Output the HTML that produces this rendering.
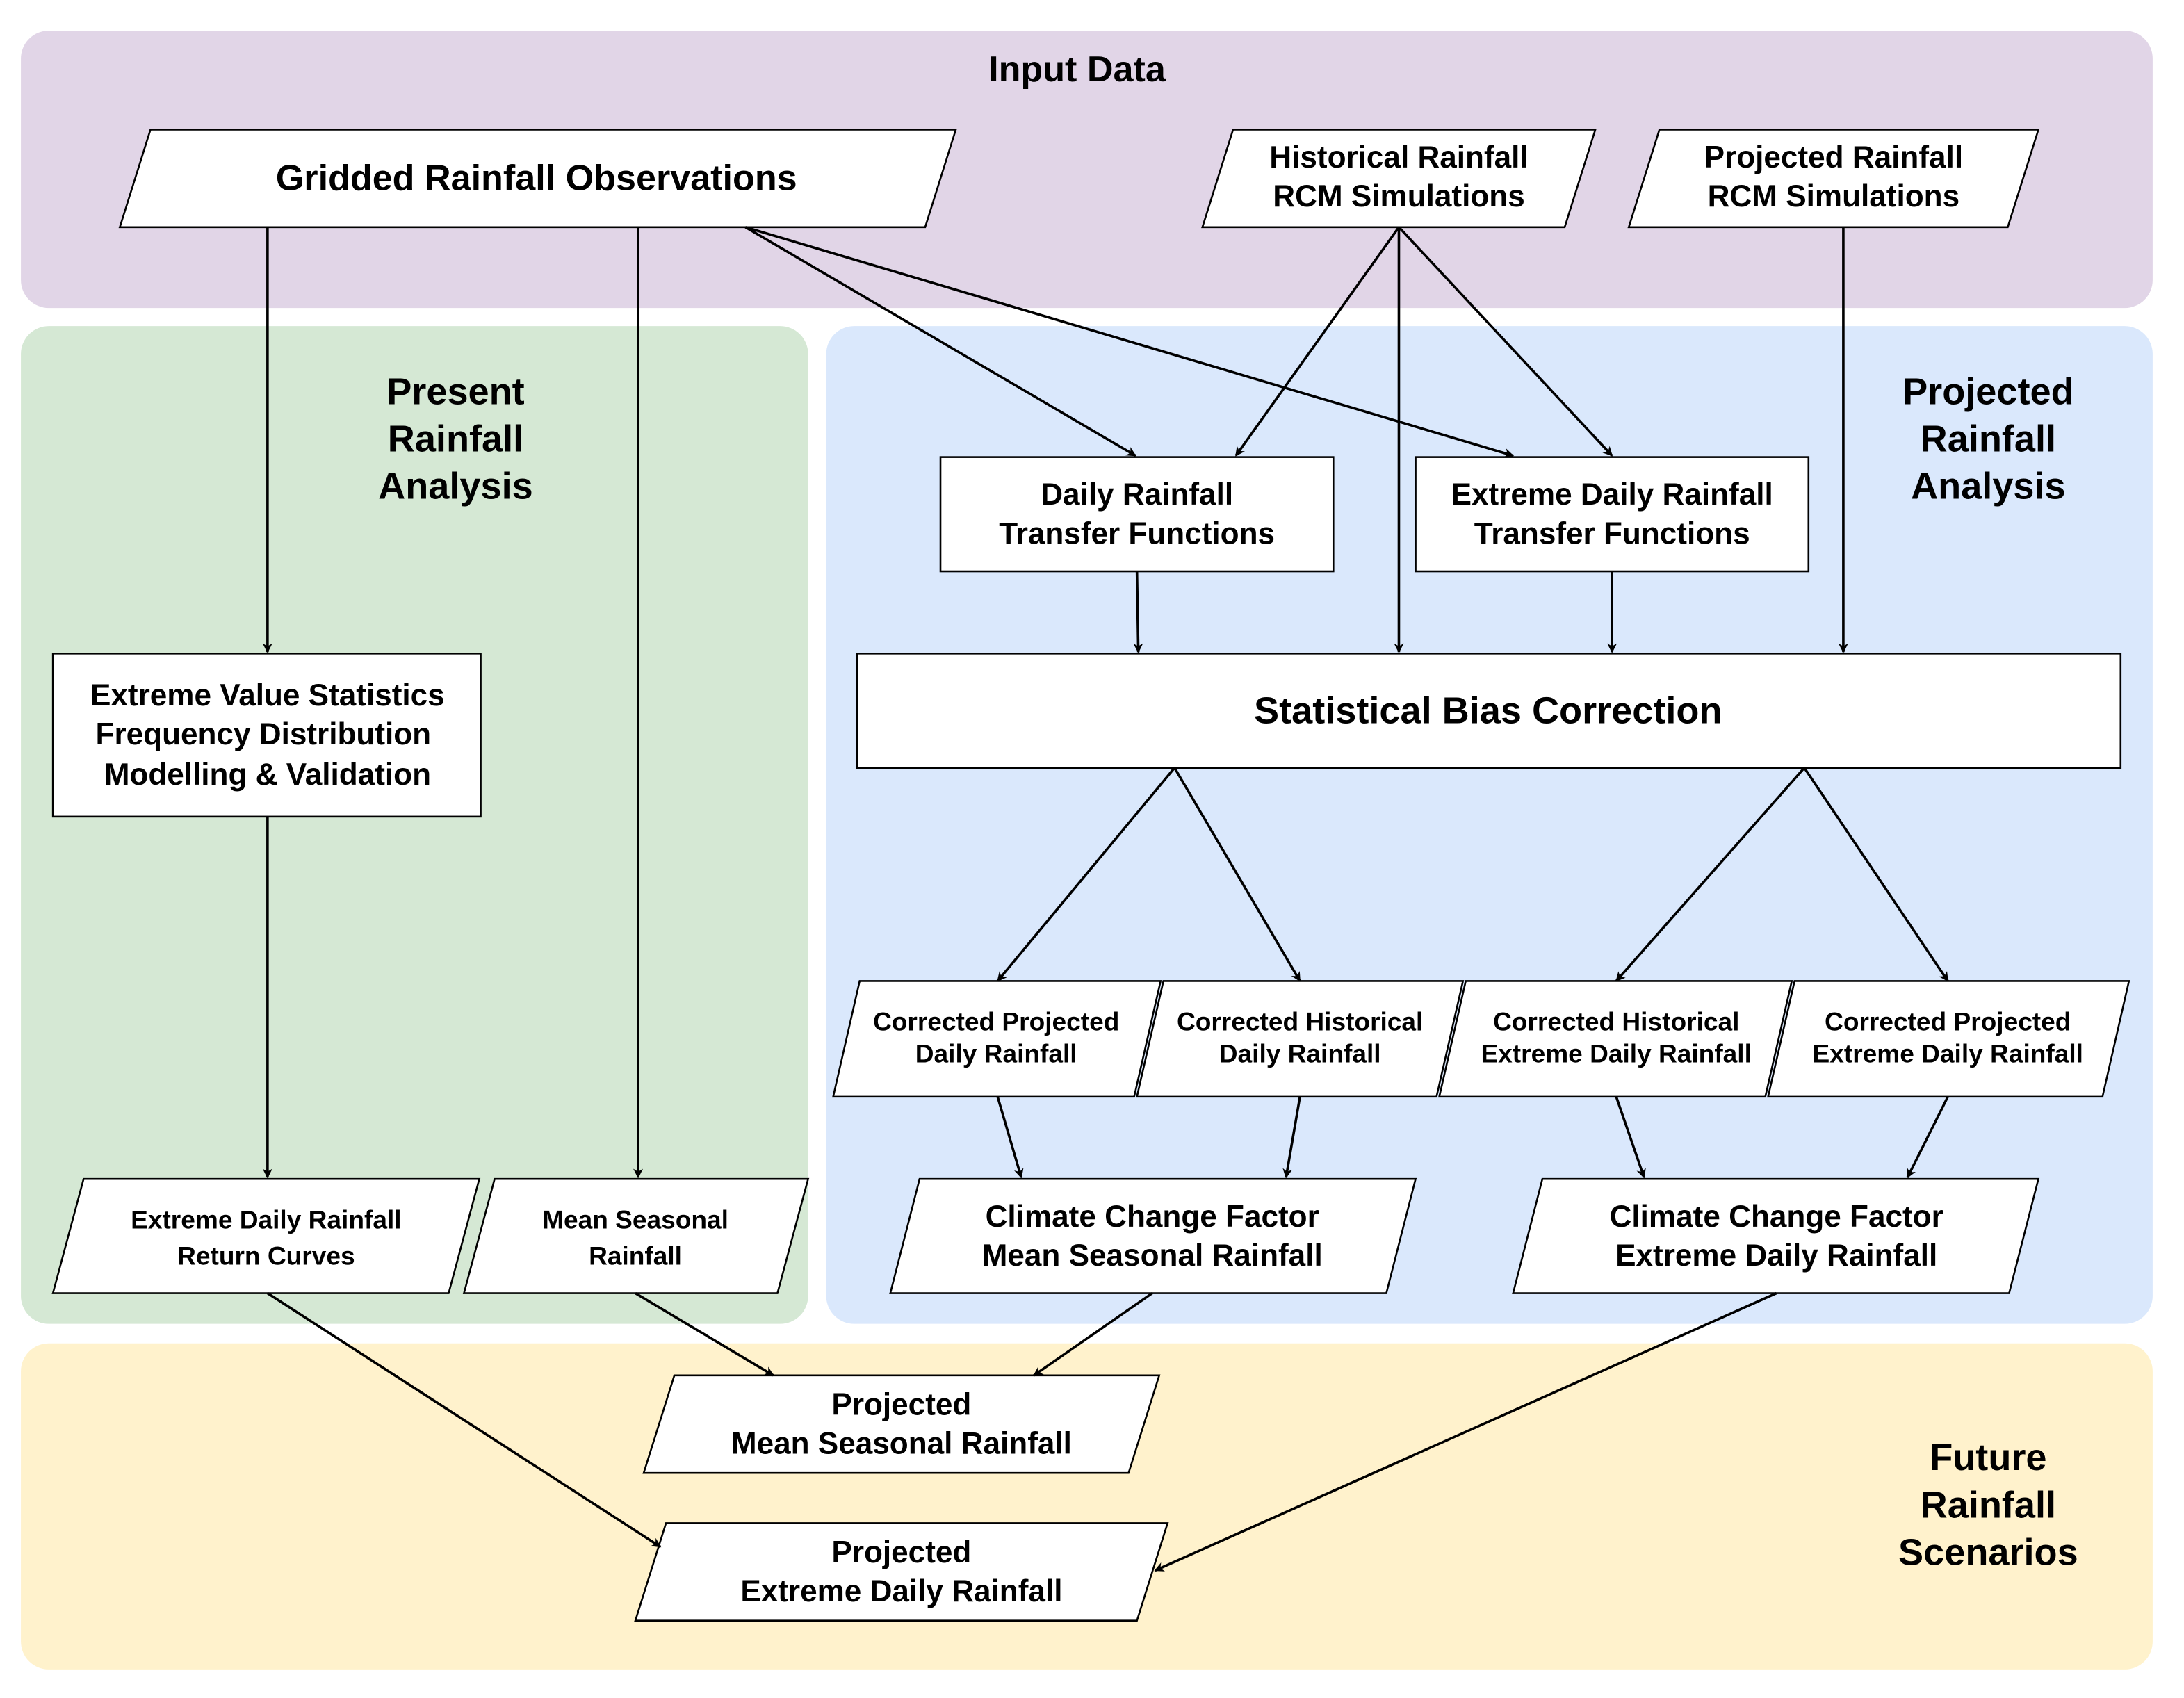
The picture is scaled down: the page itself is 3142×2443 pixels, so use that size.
<!DOCTYPE html>
<html><head><meta charset="utf-8"><style>
html,body{margin:0;padding:0;background:#fff;}
svg{display:block;}
text{font-family:"Liberation Sans",Arial,sans-serif;font-weight:bold;fill:#000;text-anchor:middle;dominant-baseline:central;}
</style></head><body>
<svg width="3142" height="2443" viewBox="0 0 1567.5 1218.5" preserveAspectRatio="none" xmlns="http://www.w3.org/2000/svg">
<defs>
<marker id="a" viewBox="0 0 10 10" refX="9" refY="5" markerWidth="7" markerHeight="7" orient="auto" markerUnits="userSpaceOnUse">
<path d="M0,0 L10,5 L0,10 L3,5 z" fill="#000"/>
</marker>
</defs>
<rect x="0" y="0" width="1570" height="1220" fill="#fff"/>
<rect x="15" y="22" width="1530" height="199" rx="20" fill="#e1d5e7"/>
<rect x="15" y="234" width="565" height="716" rx="20" fill="#d5e8d4"/>
<rect x="593" y="234" width="952" height="716" rx="20" fill="#dae8fc"/>
<rect x="15" y="964" width="1530" height="234" rx="20" fill="#fff2cc"/>

<text x="773" y="50" font-size="26">Input Data</text>
<g font-size="27">
<text x="327" y="281">Present</text><text x="327" y="315">Rainfall</text><text x="327" y="349">Analysis</text>
<text x="1427" y="281">Projected</text><text x="1427" y="315">Rainfall</text><text x="1427" y="349">Analysis</text>
<text x="1427" y="1046">Future</text><text x="1427" y="1080">Rainfall</text><text x="1427" y="1114">Scenarios</text>
</g>

<g fill="#fff" stroke="#000" stroke-width="1.3">
<polygon points="108,93 686,93 664,163 86,163"/>
<polygon points="885,93 1145,93 1123,163 863,163"/>
<polygon points="1191,93 1463,93 1441,163 1169,163"/>
<rect x="675" y="328" width="282" height="82"/>
<rect x="1016" y="328" width="282" height="82"/>
<rect x="615" y="469" width="907" height="82"/>
<rect x="38" y="469" width="307" height="117"/>
<polygon points="617,704 833,704 814,787 598,787"/>
<polygon points="835,704 1050,704 1031,787 816,787"/>
<polygon points="1052,704 1286,704 1267,787 1033,787"/>
<polygon points="1288,704 1528,704 1509,787 1269,787"/>
<polygon points="660,846 1016,846 995,928 639,928"/>
<polygon points="1107,846 1463,846 1442,928 1086,928"/>
<polygon points="60,846 344,846 322,928 38,928"/>
<polygon points="355,846 580,846 558,928 333,928"/>
<polygon points="484,987 832,987 810,1057 462,1057"/>
<polygon points="478,1093 838,1093 816,1163 456,1163"/>
</g>

<text x="385" y="128" font-size="26">Gridded Rainfall Observations</text>
<g font-size="22">
<text x="1004" y="113">Historical Rainfall</text><text x="1004" y="141">RCM Simulations</text>
<text x="1316" y="113">Projected Rainfall</text><text x="1316" y="141">RCM Simulations</text>
<text x="816" y="355">Daily Rainfall</text><text x="816" y="383">Transfer Functions</text>
<text x="1157" y="355">Extreme Daily Rainfall</text><text x="1157" y="383">Transfer Functions</text>
<text x="192" y="499">Extreme Value Statistics</text><text x="189" y="527">Frequency Distribution</text><text x="192" y="556">Modelling &amp; Validation</text>
<text x="827" y="873">Climate Change Factor</text><text x="827" y="901">Mean Seasonal Rainfall</text>
<text x="1275" y="873">Climate Change Factor</text><text x="1275" y="901">Extreme Daily Rainfall</text>
<text x="647" y="1008">Projected</text><text x="647" y="1036">Mean Seasonal Rainfall</text>
<text x="647" y="1114">Projected</text><text x="647" y="1142">Extreme Daily Rainfall</text>
</g>
<text x="1068" y="510" font-size="27">Statistical Bias Correction</text>
<g font-size="18.5">
<text x="715" y="733">Corrected Projected</text><text x="715" y="756">Daily Rainfall</text>
<text x="933" y="733">Corrected Historical</text><text x="933" y="756">Daily Rainfall</text>
<text x="1160" y="733">Corrected Historical</text><text x="1160" y="756">Extreme Daily Rainfall</text>
<text x="1398" y="733">Corrected Projected</text><text x="1398" y="756">Extreme Daily Rainfall</text>
<text x="191" y="875">Extreme Daily Rainfall</text><text x="191" y="901">Return Curves</text>
<text x="456" y="875">Mean Seasonal</text><text x="456" y="901">Rainfall</text>
</g>

<g stroke="#000" stroke-width="1.8" fill="none" marker-end="url(#a)">
<line x1="192" y1="163" x2="192" y2="468"/>
<line x1="458" y1="163" x2="458" y2="845"/>
<line x1="535" y1="163" x2="815" y2="327"/>
<line x1="535" y1="163" x2="1086" y2="327"/>
<line x1="1004" y1="163" x2="887" y2="327"/>
<line x1="1004" y1="163" x2="1004" y2="468"/>
<line x1="1004" y1="163" x2="1157" y2="327"/>
<line x1="1323" y1="163" x2="1323" y2="468"/>
<line x1="816" y1="410" x2="817" y2="468"/>
<line x1="1157" y1="410" x2="1157" y2="468"/>
<line x1="192" y1="586" x2="192" y2="845"/>
<line x1="843" y1="551" x2="716" y2="704"/>
<line x1="843" y1="551" x2="933" y2="704"/>
<line x1="1295" y1="551" x2="1160" y2="704"/>
<line x1="1295" y1="551" x2="1398" y2="704"/>
<line x1="716" y1="787" x2="733" y2="845"/>
<line x1="933" y1="787" x2="923" y2="845"/>
<line x1="1160" y1="787" x2="1180" y2="845"/>
<line x1="1398" y1="787" x2="1369" y2="845"/>
<line x1="192" y1="928" x2="474" y2="1110"/>
<line x1="456" y1="928" x2="555" y2="987"/>
<line x1="827" y1="928" x2="742" y2="987"/>
<line x1="1275" y1="928" x2="829" y2="1127"/>
</g>
</svg>
</body></html>
